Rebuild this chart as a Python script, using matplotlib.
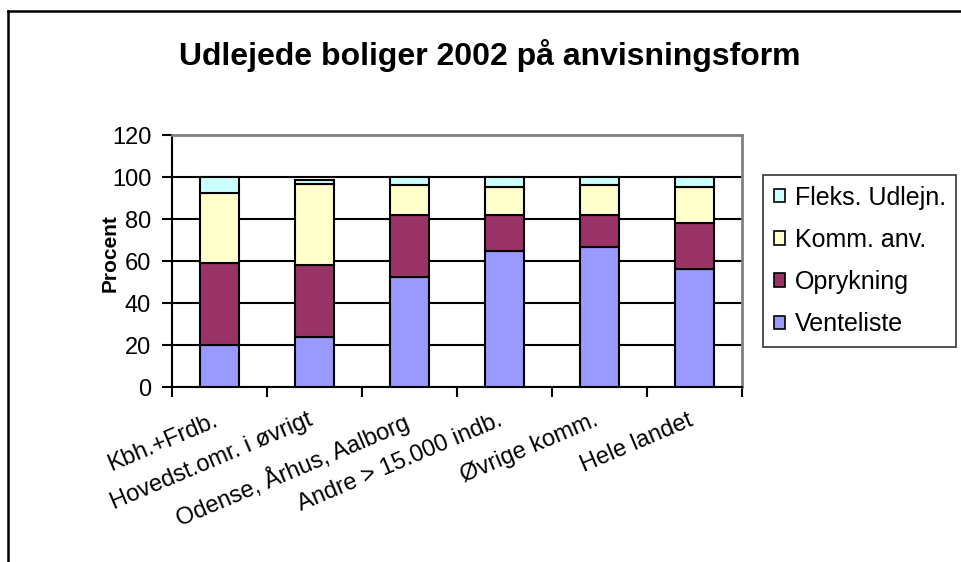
import matplotlib
matplotlib.use("Agg")
import matplotlib.pyplot as plt
from matplotlib.lines import Line2D
from matplotlib.patches import Patch
import matplotlib.transforms as mtransforms
import numpy as np

plt.rcParams['font.family'] = ['Liberation Sans', 'DejaVu Sans']

categories = ["Kbh.+Frdb.", "Hovedst.omr. i øvrigt", "Odense, Århus, Aalborg",
              "Andre > 15.000 indb.", "Øvrige komm.", "Hele landet"]
venteliste = [20.0, 23.7, 52.5, 64.8, 66.7, 56.2]
oprykning = [39.0, 34.6, 29.6, 17.1, 15.4, 22.1]
komm_anv = [33.4, 38.3, 14.2, 13.3, 14.2, 16.8]
fleks = [7.6, 2.2, 3.7, 4.8, 3.7, 4.9]
series_names = ["Venteliste", "Oprykning", "Komm. anv.", "Fleks. Udlejn."]
colors = ["#9999FF", "#993366", "#FFFFCC", "#CCFFFF"]
yticks = [0, 20, 40, 60, 80, 100, 120]

W, H = 961, 562
fig = plt.figure(figsize=(W / 100, H / 100), dpi=100)
ax = fig.add_axes([172 / W, 1 - 387 / H, (742 - 172) / W, (387 - 135) / H])

x = np.arange(len(categories))
bottom = np.zeros(len(categories))
handles = []
for name, vals, c in zip(series_names, [venteliste, oprykning, komm_anv, fleks], colors):
    ax.bar(x, vals, width=0.42, bottom=bottom, color=c, edgecolor='black',
           linewidth=1.5, zorder=3)
    bottom += np.array(vals)
    handles.append(Patch(facecolor=c, edgecolor='black', linewidth=1.2, label=name))

ax.set_xlim(-0.5, len(categories) - 0.5)
ax.set_ylim(0, 120)
ax.set_yticks(yticks)
ax.yaxis.grid(True, color='black', linewidth=1.5, zorder=1)
ax.set_axisbelow(True)

for s in ['top', 'right']:
    ax.spines[s].set_color('#808080')
    ax.spines[s].set_linewidth(2)
for s in ['left', 'bottom']:
    ax.spines[s].set_color('black')
    ax.spines[s].set_linewidth(1.5)

ax.set_xticks(np.arange(len(categories) + 1) - 0.5)
ax.set_xticklabels([])
ax.set_xticks(x, minor=True)
ax.set_xticklabels(categories, minor=True, rotation=23, ha='right', va='top',
                   rotation_mode='anchor', fontsize=17)
ax.tick_params(axis='x', which='minor', length=0, pad=16)
ax.tick_params(axis='x', which='major', length=7, width=1.5, direction='out')
ax.tick_params(axis='y', length=7, width=1.5, direction='out', labelsize=17, pad=8)
shift = mtransforms.ScaledTranslation(-7 / 100, 0, fig.dpi_scale_trans)
for lbl in ax.get_xticklabels(minor=True):
    lbl.set_transform(lbl.get_transform() + shift)

ax.set_ylabel("Procent", fontsize=15, fontweight='bold')
ax.yaxis.set_label_coords((120 - 172) / 570, (387 - 253) / 252)

fig.text(490 / W, 1 - 55 / H, "Udlejede boliger 2002 på anvisningsform",
         ha='center', va='center', fontsize=23, fontweight='bold')

leg = fig.legend(handles=handles[::-1], loc='upper left',
                 bbox_to_anchor=(763 / W, 1 - 175 / H), fontsize=18,
                 frameon=True, fancybox=False, edgecolor='black',
                 handlelength=0.45, handleheight=0.45, handletextpad=0.4,
                 labelspacing=0.73, borderpad=0.42, borderaxespad=0)
leg.get_frame().set_linewidth(1.2)

fig.add_artist(Line2D([8 / W, 8 / W], [0, 1 - 11 / H], color='black', linewidth=1.8,
                      transform=fig.transFigure))
fig.add_artist(Line2D([8 / W, 1], [1 - 11 / H, 1 - 11 / H], color='black', linewidth=1.8,
                      transform=fig.transFigure))

fig.savefig("out.png", dpi=100)
